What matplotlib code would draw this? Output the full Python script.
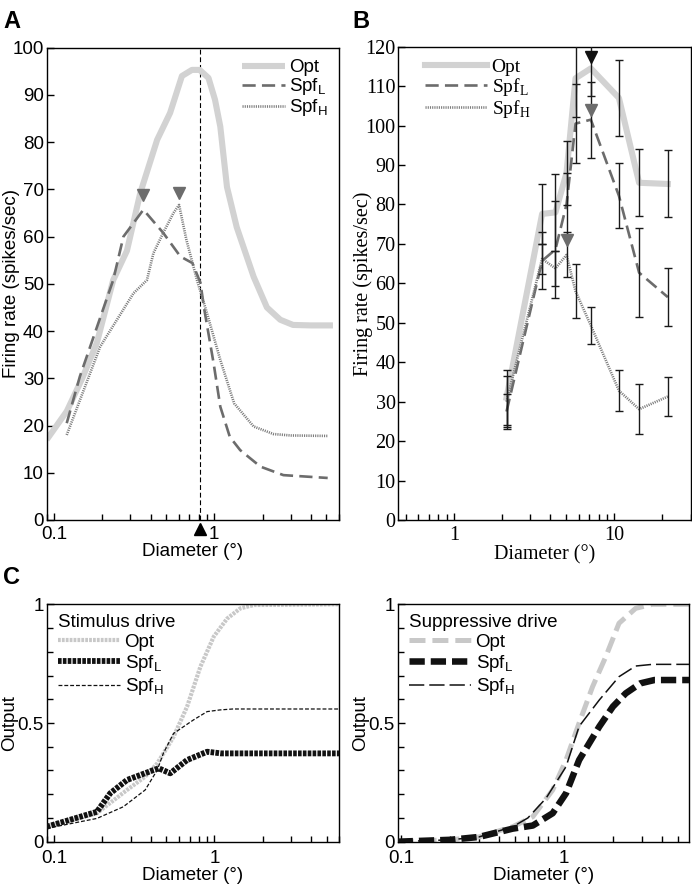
import numpy as np
import matplotlib
matplotlib.use("Agg")
import matplotlib.pyplot as plt
from matplotlib.ticker import FixedLocator, FixedFormatter, LogLocator, NullFormatter, MultipleLocator
import matplotlib.transforms as mtransforms

plt.rcParams['font.family'] = ['Liberation Sans', 'DejaVu Sans']
plt.rcParams['mathtext.fontset'] = 'custom'
plt.rcParams['mathtext.rm'] = 'Liberation Serif'
plt.rcParams['mathtext.sf'] = 'Liberation Sans'
plt.rcParams['lines.scale_dashes'] = False
plt.rcParams['axes.linewidth'] = 1.0

# ---------------- Panel A data (model fit) ----------------
a_opt_x = [0.09, 0.12, 0.15, 0.185, 0.234, 0.285, 0.345, 0.44, 0.53, 0.628, 0.725, 0.81, 0.92,
           1.01, 1.09, 1.2, 1.38, 1.76, 2.13, 2.58, 3.1, 4.0, 5.5]
a_opt_y = [17, 23, 30, 37.5, 50.8, 57, 69.2, 80.5, 86.2, 94, 95.3, 95.3, 93.6,
           89, 83.3, 70.5, 62, 51.5, 45, 42.4, 41.3, 41.2, 41.2]
a_spfl_x = [0.12, 0.145, 0.234, 0.271, 0.361, 0.48, 0.614, 0.73, 0.82, 0.86, 0.99, 1.09, 1.25,
            1.45, 1.94, 2.7, 5.1]
a_spfl_y = [20.5, 30.4, 50.8, 60, 65.7, 60.8, 55.8, 54.4, 50.2, 45.2, 33.2, 24, 17.6,
            14.8, 11.3, 9.5, 8.9]
a_spfh_x = [0.12, 0.194, 0.313, 0.38, 0.417, 0.48, 0.556, 0.603, 0.67, 0.78, 0.9, 1.09, 1.33,
            1.76, 2.34, 3.0, 5.1]
a_spfh_y = [18, 36.7, 48, 50.8, 56.5, 60.8, 65, 66.7, 59.3, 50.8, 43.8, 33.9, 24.7,
            19.8, 18.2, 17.9, 17.8]
a_peak_x = [0.361, 0.603]
a_peak_y = [68.8, 69.2]
a_opt_peak = 0.81

# ---------------- Panel B data (recorded) ----------------
b_x = [2.13, 3.55, 4.3, 5.04, 5.74, 7.15, 10.7, 14.3, 21.6]
b_opt = [31, 77.6, 78, 88, 112, 114.5, 107, 85.5, 85.2]
b_opt_err = [7, 7.5, 9.7, 8.1, 9.8, 7.0, 9.6, 8.5, 8.5]
b_spfl = [27.5, 65.7, 68.6, 80, 100.5, 101.5, 82.2, 62.7, 56.5]
b_spfl_err = [4.5, 7.2, 12.4, 7.9, 10, 9.6, 8.2, 11.3, 7.3]
b_spfh = [30, 66.2, 63.8, 67.2, 58, 49.3, 32.8, 28.1, 31.3]
b_spfh_err = [6.5, 3.9, 4.4, 5.7, 6.8, 4.8, 5.2, 6.3, 4.9]
b_peak_black = (7.15, 117.5)
b_peak_gray_x = [7.15, 5.04]
b_peak_gray_y = [104, 71]

# ---------------- Panel C data ----------------
cs_opt_x = [0.09, 0.185, 0.285, 0.37, 0.44, 0.51, 0.556, 0.675, 0.817, 0.99, 1.2, 1.45, 1.76, 6.0]
cs_opt_y = [0.063, 0.12, 0.218, 0.274, 0.33, 0.40, 0.442, 0.569, 0.737, 0.864, 0.94, 0.983, 0.997, 1.0]
cs_spfl_x = [0.09, 0.185, 0.224, 0.285, 0.418, 0.45, 0.53, 0.675, 0.9, 1.1, 6.0]
cs_spfl_y = [0.063, 0.126, 0.204, 0.26, 0.302, 0.309, 0.288, 0.344, 0.379, 0.372, 0.372]
cs_spfh_x = [0.09, 0.185, 0.27, 0.37, 0.44, 0.48, 0.556, 0.74, 0.9, 1.08, 1.3, 6.0]
cs_spfh_y = [0.056, 0.098, 0.147, 0.218, 0.302, 0.372, 0.456, 0.513, 0.548, 0.555, 0.559, 0.559]

cp_opt_x = [0.095, 0.2, 0.3, 0.484, 0.643, 0.853, 1.03, 1.24, 1.5, 1.81, 2.18, 2.76, 3.5, 5.9]
cp_opt_y = [0.0, 0.008, 0.02, 0.063, 0.105, 0.218, 0.344, 0.5, 0.653, 0.78, 0.92, 0.983, 1.0, 1.0]
cp_spfl_x = [0.095, 0.2, 0.3, 0.484, 0.643, 0.853, 1.03, 1.24, 1.65, 2.0, 2.4, 2.95, 3.6, 5.9]
cp_spfl_y = [0.0, 0.008, 0.02, 0.055, 0.068, 0.12, 0.204, 0.344, 0.485, 0.569, 0.625, 0.667, 0.681, 0.681]
cp_spfh_x = [0.095, 0.2, 0.3, 0.484, 0.6, 0.776, 1.03, 1.24, 1.65, 2.18, 2.76, 3.5, 5.9]
cp_spfh_y = [0.0, 0.008, 0.02, 0.063, 0.1, 0.183, 0.316, 0.486, 0.597, 0.695, 0.74, 0.747, 0.747]

LIGHT = '#d2d2d2'
MID = '#6c6c6c'
DOT = '#7c7c7c'

fig = plt.figure(figsize=(6.92, 8.85), dpi=100)

def px_axes(l, r, t, b):
    W, H = 692.0, 885.0
    return fig.add_axes([l / W, 1 - b / H, (r - l) / W, (b - t) / H])

def style_log(ax, xlim, majors, labels, fs, family, xpad=4.5):
    ax.set_xscale('log')
    ax.set_xlim(*xlim)
    ax.xaxis.set_major_locator(FixedLocator(majors))
    ax.xaxis.set_major_formatter(FixedFormatter(labels))
    ax.xaxis.set_minor_locator(LogLocator(base=10, subs=np.arange(2, 10)))
    ax.xaxis.set_minor_formatter(NullFormatter())
    ax.tick_params(axis='both', which='both', direction='in', top=False, right=False)
    ax.tick_params(axis='both', which='major', length=5, width=1)
    ax.tick_params(axis='both', which='minor', length=4, width=1)
    ax.tick_params(axis='x', which='both', pad=xpad)
    ax.tick_params(axis='y', which='both', pad=2)
    for lab in ax.get_xticklabels() + ax.get_yticklabels():
        lab.set_fontsize(fs)
        lab.set_family(family)

SANS = ['Liberation Sans', 'DejaVu Sans']
SERIF = ['Liberation Serif', 'DejaVu Serif']

# ================= Panel A =================
axA = px_axes(46.7, 339, 47.7, 520)
axA.plot(a_opt_x, a_opt_y, color=LIGHT, lw=4.4, solid_capstyle='butt', label='Opt', zorder=2)
axA.plot(a_spfl_x, a_spfl_y, color=MID, lw=1.9, dashes=(9.5, 4.5), label='Spf$_\\mathsf{L}$', zorder=3)
axA.plot(a_spfh_x, a_spfh_y, color=DOT, lw=1.9, dashes=(0.8, 0.8), label='Spf$_\\mathsf{H}$', zorder=3)
axA.axvline(a_opt_peak, color='black', lw=0.8, dashes=(3.5, 2.0), zorder=1)
axA.plot(a_peak_x, a_peak_y, linestyle='none', marker='v', markersize=9, color=MID, zorder=4)
trA = mtransforms.blended_transform_factory(axA.transData, axA.transAxes)
axA.plot([a_opt_peak], [-0.018], transform=trA, marker='^', markersize=8, color='black',
         linestyle='none', clip_on=False, zorder=5)
axA.set_ylim(0, 100)
axA.yaxis.set_major_locator(MultipleLocator(10))
style_log(axA, (0.09, 6.0), [0.1, 1], ['0.1', '1'], 13.5, SANS)
axA.set_ylabel('Firing rate (spikes/sec)', fontsize=13.5)
axA.yaxis.set_label_coords(-0.093, 0.5)
axA.set_xlabel('Diameter (°)', fontsize=13.5, labelpad=0)
legA = axA.legend(loc='upper right', frameon=False, fontsize=13.5, handlelength=2.3,
                  handletextpad=0.2, labelspacing=0.0, borderaxespad=0.2,
                  bbox_to_anchor=(1.0, 1.0))

# ================= Panel B =================
axB = px_axes(398.3, 690.7, 46.7, 520)
axB.plot(b_x, b_opt, color=LIGHT, lw=4.4, label='Opt', zorder=2)
axB.plot(b_x, b_spfl, color=MID, lw=1.9, dashes=(9.5, 4.5), label='Spf$_\\mathrm{L}$', zorder=3)
axB.plot(b_x, b_spfh, color=DOT, lw=1.9, dashes=(0.8, 0.8), label='Spf$_\\mathrm{H}$', zorder=3)
for ys, es in [(b_opt, b_opt_err), (b_spfl, b_spfl_err), (b_spfh, b_spfh_err)]:
    axB.errorbar(b_x, ys, yerr=es, fmt='none', ecolor='#1a1a1a', elinewidth=1.0,
                 capsize=3, capthick=1.0, zorder=4)
axB.plot([b_peak_black[0]], [b_peak_black[1]], marker='v', markersize=9, color='#111111',
         linestyle='none', zorder=5)
axB.plot(b_peak_gray_x, b_peak_gray_y, marker='v', markersize=9, color=MID, linestyle='none', zorder=5)
axB.set_ylim(0, 120)
axB.yaxis.set_major_locator(MultipleLocator(10))
style_log(axB, (0.45, 30), [1, 10], ['1', '10'], 14.5, SERIF)
axB.set_ylabel('Firing rate (spikes/sec)', fontsize=14.5, family=SERIF)
axB.yaxis.set_label_coords(-0.088, 0.5)
axB.set_xlabel('Diameter (°)', fontsize=14.5, family=SERIF, labelpad=0)
legB = axB.legend(loc='upper left', frameon=False, handlelength=3.2, handletextpad=0.25,
                  labelspacing=0.0, borderaxespad=0.2, bbox_to_anchor=(0.05, 1.0),
                  prop={'family': SERIF, 'size': 14})

# ================= Panel C left =================
axC1 = px_axes(46.7, 339.3, 604.3, 841.7)
axC1.plot(cs_opt_x, cs_opt_y, color='#c8c8c8', lw=3.0, dashes=(2.0, 0.8), label='Opt', zorder=2)
axC1.plot(cs_spfl_x, cs_spfl_y, color='#111111', lw=4.2, dashes=(2.6, 0.9), label='Spf$_\\mathsf{L}$', zorder=3)
axC1.plot(cs_spfh_x, cs_spfh_y, color='#111111', lw=0.9, dashes=(2.8, 1.4), label='Spf$_\\mathsf{H}$', zorder=3)
axC1.set_ylim(0, 1)
axC1.yaxis.set_major_locator(FixedLocator([0, 0.5, 1]))
axC1.yaxis.set_major_formatter(FixedFormatter(['0', '0.5', '1']))
axC1.yaxis.set_minor_locator(MultipleLocator(0.1))
style_log(axC1, (0.09, 6.0), [0.1, 1], ['0.1', '1'], 13.5, SANS, xpad=6)
axC1.set_ylabel('Output', fontsize=13.5)
axC1.yaxis.set_label_coords(-0.098, 0.5)
axC1.set_xlabel('Diameter (°)', fontsize=13.5, labelpad=0)
legC1 = axC1.legend(loc='upper left', frameon=False, fontsize=13.5, title='Stimulus drive',
                    title_fontsize=13.5, handlelength=3.3, handletextpad=0.25, labelspacing=0.12,
                    borderaxespad=0.2, alignment='left', bbox_to_anchor=(0.0, 1.005))

# ================= Panel C right =================
axC2 = px_axes(397.7, 689.3, 604.3, 841.7)
axC2.plot(cp_opt_x, cp_opt_y, color='#c8c8c8', lw=3.6, dashes=(11.5, 5.0), label='Opt', zorder=2)
axC2.plot(cp_spfl_x, cp_spfl_y, color='#111111', lw=4.7, dashes=(11.0, 4.3), label='Spf$_\\mathsf{L}$', zorder=3)
axC2.plot(cp_spfh_x, cp_spfh_y, color='#111111', lw=1.1, dashes=(11.0, 3.6), label='Spf$_\\mathsf{H}$', zorder=3)
axC2.set_ylim(0, 1)
axC2.yaxis.set_major_locator(FixedLocator([0, 0.5, 1]))
axC2.yaxis.set_major_formatter(FixedFormatter(['0', '0.5', '1']))
axC2.yaxis.set_minor_locator(MultipleLocator(0.1))
style_log(axC2, (0.095, 5.9), [0.1, 1], ['0.1', '1'], 13.5, SANS, xpad=6)
axC2.set_ylabel('Output', fontsize=13.5)
axC2.yaxis.set_label_coords(-0.098, 0.5)
axC2.set_xlabel('Diameter (°)', fontsize=13.5, labelpad=0)
legC2 = axC2.legend(loc='upper left', frameon=False, fontsize=13.5, title='Suppressive drive',
                    title_fontsize=13.5, handlelength=3.3, handletextpad=0.25, labelspacing=0.12,
                    borderaxespad=0.2, alignment='left', bbox_to_anchor=(0.0, 1.005))

# panel letters
for txt, xp, yp in [('A', 3, 28), ('B', 352, 28), ('C', 3, 584)]:
    fig.text(xp / 692.0, 1 - yp / 885.0, txt, fontsize=17, fontweight='bold',
             family=SANS, ha='left', va='baseline')

fig.savefig('out.png', dpi=100)
